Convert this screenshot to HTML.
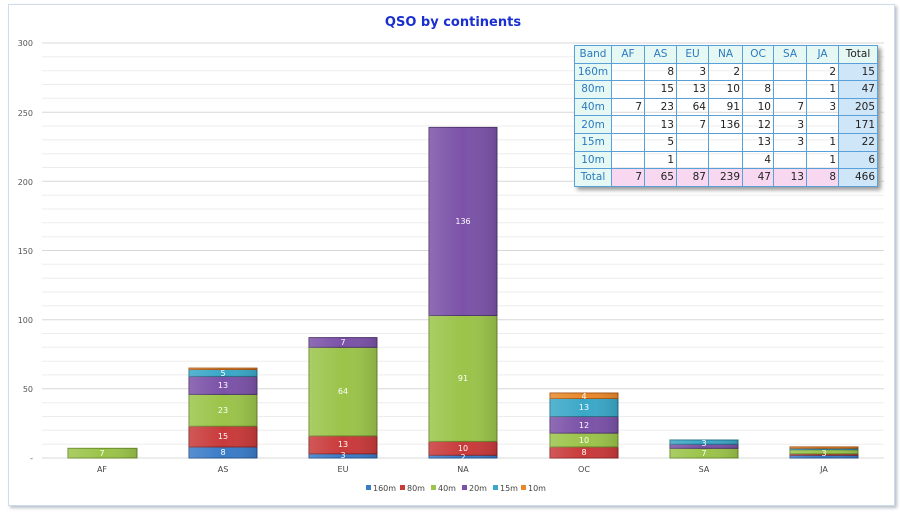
<!DOCTYPE html>
<html><head><meta charset="utf-8"><style>
body{margin:0;background:#fff;width:900px;height:513px;overflow:hidden;font-family:"DejaVu Sans","Liberation Sans",sans-serif}
.frame{position:absolute;left:8px;top:4px;width:885px;height:500px;border:1px solid #cfdceb;background:#fff;box-shadow:2px 2px 3px #b8c0c8}
table{position:absolute;left:574px;top:45px;border-collapse:collapse;font-size:10.5px;box-shadow:3px 3px 4px #999;table-layout:fixed;width:303px}
td{border:1px solid #5aa0d8;height:16.6px;padding:0 2px;text-align:right;color:#222;overflow:hidden;white-space:nowrap}
tr.h td{text-align:center;color:#2a7ac0;background:#e6f8f4}
td.b{text-align:center;color:#2a7ac0;background:#e6f8f4}
td.t{background:#cfe6f8}
tr.tot td{background:#f8d8f0}
tr.tot td.b{background:#e6f8f4}
tr.tot td.t{background:#cfe6f8}
</style></head><body>
<div class="frame"></div>
<svg width="900" height="513" style="position:absolute;left:0;top:0" font-family="DejaVu Sans, Liberation Sans, sans-serif">
<defs>
<linearGradient id="sh" x1="0" x2="1" y1="0" y2="0"><stop offset="0" stop-color="#fff" stop-opacity="0.15"/><stop offset="0.5" stop-color="#fff" stop-opacity="0"/><stop offset="1" stop-color="#000" stop-opacity="0.12"/></linearGradient>
</defs>
<text x="453" y="26" text-anchor="middle" font-size="13" font-weight="bold" fill="#1a2fd0">QSO by continents</text>
<g stroke="#ededed" stroke-width="1">
<line x1="42" x2="884" y1="444.2" y2="444.2"/><line x1="42" x2="884" y1="430.3" y2="430.3"/><line x1="42" x2="884" y1="416.5" y2="416.5"/><line x1="42" x2="884" y1="402.7" y2="402.7"/>
<line x1="42" x2="884" y1="374.9" y2="374.9"/><line x1="42" x2="884" y1="361.2" y2="361.2"/><line x1="42" x2="884" y1="347.3" y2="347.3"/><line x1="42" x2="884" y1="333.5" y2="333.5"/>
<line x1="42" x2="884" y1="305.8" y2="305.8"/><line x1="42" x2="884" y1="292" y2="292"/><line x1="42" x2="884" y1="278.2" y2="278.2"/><line x1="42" x2="884" y1="264.3" y2="264.3"/>
<line x1="42" x2="884" y1="236.7" y2="236.7"/><line x1="42" x2="884" y1="222.8" y2="222.8"/><line x1="42" x2="884" y1="209" y2="209"/><line x1="42" x2="884" y1="195.2" y2="195.2"/>
<line x1="42" x2="884" y1="167.5" y2="167.5"/><line x1="42" x2="884" y1="153.7" y2="153.7"/><line x1="42" x2="884" y1="139.8" y2="139.8"/><line x1="42" x2="884" y1="126" y2="126"/>
<line x1="42" x2="884" y1="98.3" y2="98.3"/><line x1="42" x2="884" y1="84.5" y2="84.5"/><line x1="42" x2="884" y1="70.7" y2="70.7"/><line x1="42" x2="884" y1="56.8" y2="56.8"/>
</g>
<g stroke="#d8d8d8" stroke-width="1">
<line x1="42" x2="884" y1="458" y2="458"/><line x1="42" x2="884" y1="388.8" y2="388.8"/><line x1="42" x2="884" y1="319.7" y2="319.7"/><line x1="42" x2="884" y1="250.5" y2="250.5"/><line x1="42" x2="884" y1="181.3" y2="181.3"/><line x1="42" x2="884" y1="112.2" y2="112.2"/><line x1="42" x2="884" y1="43" y2="43"/>
</g>
<g font-size="8" fill="#555" text-anchor="end">
<text x="33" y="461">-</text><text x="33" y="392">50</text><text x="33" y="323">100</text><text x="33" y="254">150</text><text x="33" y="185">200</text><text x="33" y="116">250</text><text x="33" y="46">300</text>
</g>
<g font-size="8" fill="#444" text-anchor="middle">
<text x="102" y="472">AF</text><text x="223" y="472">AS</text><text x="343" y="472">EU</text><text x="463" y="472">NA</text><text x="584" y="472">OC</text><text x="704" y="472">SA</text><text x="824" y="472">JA</text>
</g>
<g stroke-width="1">
<rect x="68" y="448.3" width="69" height="9.7" fill="#9bc44a" stroke="#6a8a2a"/>
<rect x="189" y="446.9" width="68" height="11.1" fill="#3a7cc8" stroke="#24508a"/>
<rect x="189" y="426.2" width="68" height="20.7" fill="#c93a3a" stroke="#8a2424"/>
<rect x="189" y="394.4" width="68" height="31.8" fill="#9bc44a" stroke="#6a8a2a"/>
<rect x="189" y="376.4" width="68" height="18" fill="#7b52a8" stroke="#50346e"/>
<rect x="189" y="369.5" width="68" height="6.9" fill="#3aa8c8" stroke="#247088"/>
<rect x="189" y="368.1" width="68" height="1.4" fill="#e8882a" stroke="#a85a18"/>
<rect x="309" y="453.8" width="68" height="4.2" fill="#3a7cc8" stroke="#24508a"/>
<rect x="309" y="435.9" width="68" height="17.9" fill="#c93a3a" stroke="#8a2424"/>
<rect x="309" y="347.3" width="68" height="88.6" fill="#9bc44a" stroke="#6a8a2a"/>
<rect x="309" y="337.6" width="68" height="9.7" fill="#7b52a8" stroke="#50346e"/>
<rect x="429" y="455.2" width="68" height="2.8" fill="#3a7cc8" stroke="#24508a"/>
<rect x="429" y="441.4" width="68" height="13.8" fill="#c93a3a" stroke="#8a2424"/>
<rect x="429" y="315.5" width="68" height="125.9" fill="#9bc44a" stroke="#6a8a2a"/>
<rect x="429" y="127.4" width="68" height="188.1" fill="#7b52a8" stroke="#50346e"/>
<rect x="550" y="446.9" width="68" height="11.1" fill="#c93a3a" stroke="#8a2424"/>
<rect x="550" y="433.1" width="68" height="13.8" fill="#9bc44a" stroke="#6a8a2a"/>
<rect x="550" y="416.5" width="68" height="16.6" fill="#7b52a8" stroke="#50346e"/>
<rect x="550" y="398.5" width="68" height="18" fill="#3aa8c8" stroke="#247088"/>
<rect x="550" y="393" width="68" height="5.5" fill="#e8882a" stroke="#a85a18"/>
<rect x="670" y="448.3" width="68" height="9.7" fill="#9bc44a" stroke="#6a8a2a"/>
<rect x="670" y="444.2" width="68" height="4.1" fill="#7b52a8" stroke="#50346e"/>
<rect x="670" y="440" width="68" height="4.2" fill="#3aa8c8" stroke="#247088"/>
<rect x="790" y="455.2" width="68" height="2.8" fill="#3a7cc8" stroke="#24508a"/>
<rect x="790" y="453.8" width="68" height="1.4" fill="#c93a3a" stroke="#8a2424"/>
<rect x="790" y="449.7" width="68" height="4.1" fill="#9bc44a" stroke="#6a8a2a"/>
<rect x="790" y="448.3" width="68" height="1.4" fill="#3aa8c8" stroke="#247088"/>
<rect x="790" y="446.9" width="68" height="1.4" fill="#e8882a" stroke="#a85a18"/>
<rect x="68" y="448.3" width="69" height="9.7" fill="url(#sh)"/>
<rect x="189" y="368.1" width="68" height="89.9" fill="url(#sh)"/>
<rect x="309" y="337.6" width="68" height="120.4" fill="url(#sh)"/>
<rect x="429" y="127.4" width="68" height="330.6" fill="url(#sh)"/>
<rect x="550" y="393" width="68" height="65" fill="url(#sh)"/>
<rect x="670" y="440" width="68" height="18" fill="url(#sh)"/>
<rect x="790" y="446.9" width="68" height="11.1" fill="url(#sh)"/>
</g>
<g font-size="8" fill="#fff" text-anchor="middle">
<text x="102" y="456">7</text>
<text x="223" y="455">8</text><text x="223" y="439">15</text><text x="223" y="413">23</text><text x="223" y="388">13</text><text x="223" y="376">5</text>
<text x="343" y="458">3</text><text x="343" y="447">13</text><text x="343" y="394">64</text><text x="343" y="345">7</text>
<text x="463" y="460">2</text><text x="463" y="451">10</text><text x="463" y="381">91</text><text x="463" y="224">136</text>
<text x="584" y="455">8</text><text x="584" y="443">10</text><text x="584" y="428">12</text><text x="584" y="410">13</text><text x="584" y="399">4</text>
<text x="704" y="456">7</text><text x="704" y="446">3</text>
<text x="824" y="456">3</text>
</g>
<g font-size="8" fill="#444">
<rect x="366" y="485" width="5" height="5" fill="#3a7cc8"/><text x="373" y="491">160m</text>
<rect x="400" y="485" width="5" height="5" fill="#c93a3a"/><text x="407" y="491">80m</text>
<rect x="431" y="485" width="5" height="5" fill="#9bc44a"/><text x="438" y="491">40m</text>
<rect x="462" y="485" width="5" height="5" fill="#7b52a8"/><text x="469" y="491">20m</text>
<rect x="493" y="485" width="5" height="5" fill="#3aa8c8"/><text x="500" y="491">15m</text>
<rect x="521" y="485" width="5" height="5" fill="#e8882a"/><text x="528" y="491">10m</text>
</g>
</svg>
<table>
<colgroup><col style="width:37px"><col style="width:33px"><col style="width:32px"><col style="width:32px"><col style="width:34px"><col style="width:31px"><col style="width:33px"><col style="width:32px"><col style="width:39px"></colgroup>
<tr class="h"><td>Band</td><td>AF</td><td>AS</td><td>EU</td><td>NA</td><td>OC</td><td>SA</td><td>JA</td><td class="t" style="color:#222">Total</td></tr>
<tr><td class="b">160m</td><td></td><td>8</td><td>3</td><td>2</td><td></td><td></td><td>2</td><td class="t">15</td></tr>
<tr><td class="b">80m</td><td></td><td>15</td><td>13</td><td>10</td><td>8</td><td></td><td>1</td><td class="t">47</td></tr>
<tr><td class="b">40m</td><td>7</td><td>23</td><td>64</td><td>91</td><td>10</td><td>7</td><td>3</td><td class="t">205</td></tr>
<tr><td class="b">20m</td><td></td><td>13</td><td>7</td><td>136</td><td>12</td><td>3</td><td></td><td class="t">171</td></tr>
<tr><td class="b">15m</td><td></td><td>5</td><td></td><td></td><td>13</td><td>3</td><td>1</td><td class="t">22</td></tr>
<tr><td class="b">10m</td><td></td><td>1</td><td></td><td></td><td>4</td><td></td><td>1</td><td class="t">6</td></tr>
<tr class="tot"><td class="b">Total</td><td>7</td><td>65</td><td>87</td><td>239</td><td>47</td><td>13</td><td>8</td><td class="t">466</td></tr>
</table>
</body></html>
